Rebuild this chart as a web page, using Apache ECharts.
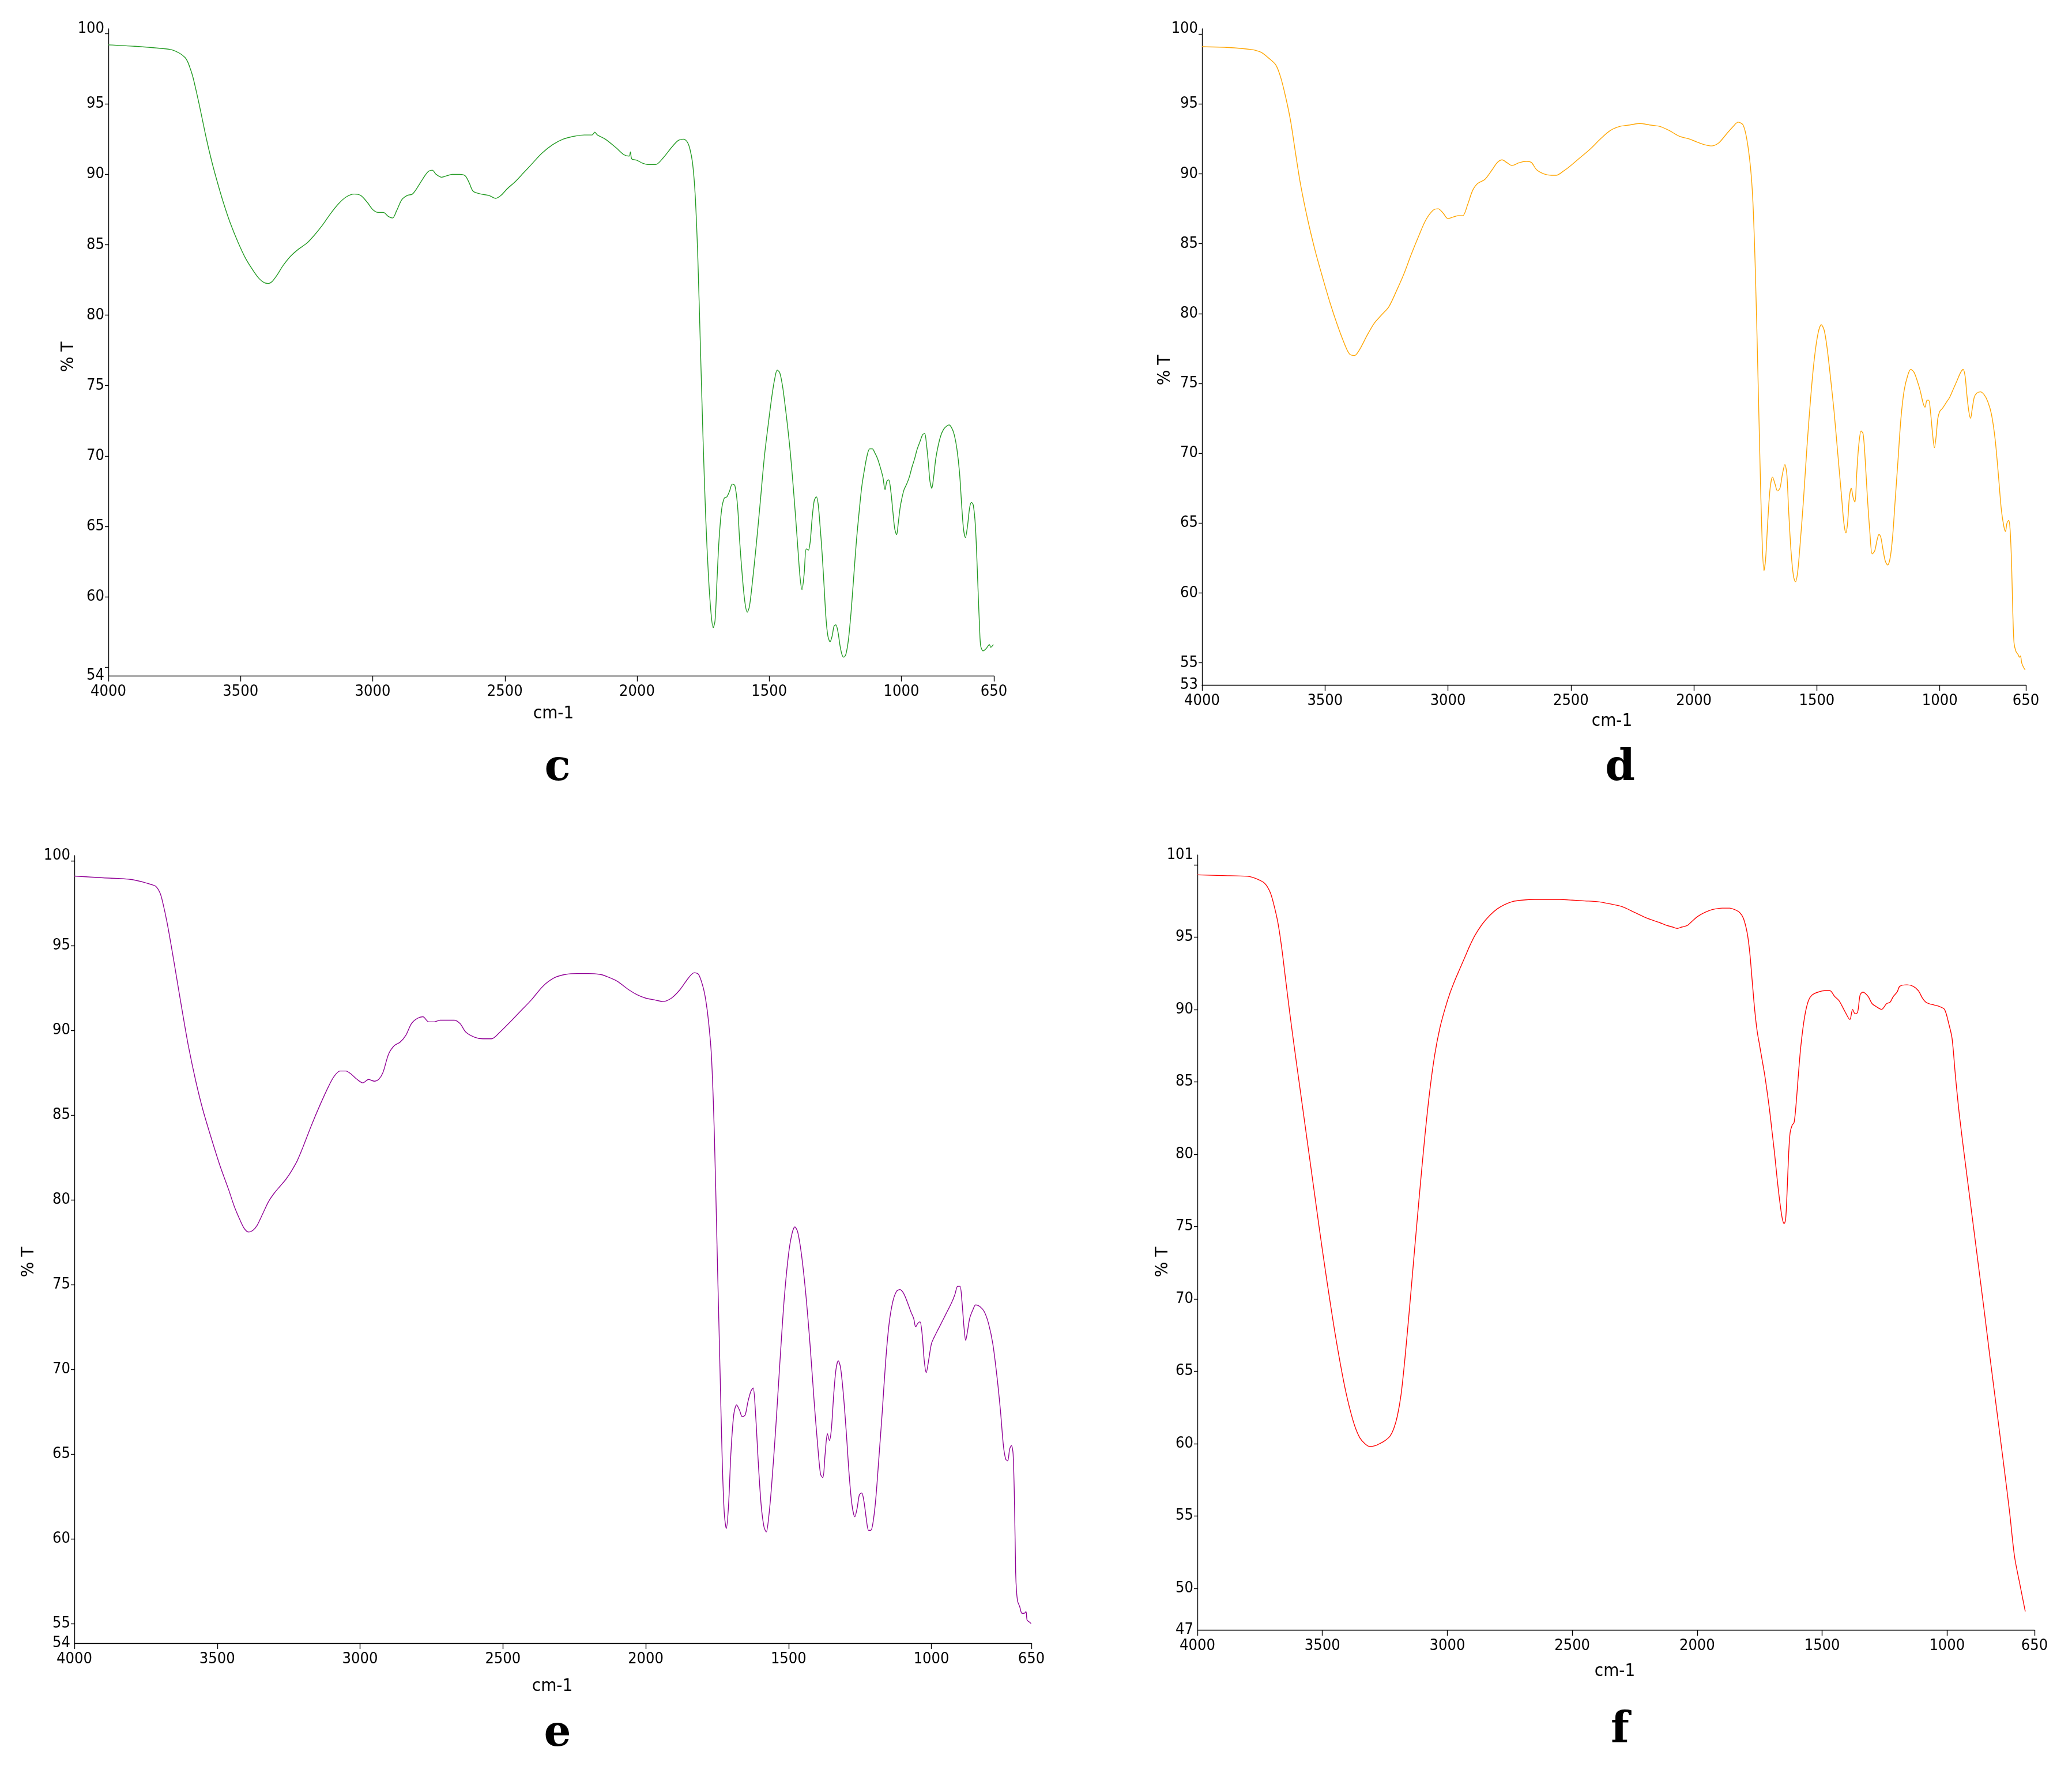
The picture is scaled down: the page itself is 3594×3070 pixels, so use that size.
<!DOCTYPE html>
<html><head><meta charset="utf-8">
<script src="https://cdn.jsdelivr.net/npm/echarts@6/dist/echarts.min.js"></script>
<style>html,body{margin:0;padding:0;background:#fff}#main{width:3594px;height:3070px}</style>
</head><body><div id="main"></div>
<script>
// ---------- DATA ----------
const xTickValues = [4000, 3500, 3000, 2500, 2000, 1500, 1000, 650];
const yTickValues = [55, 60, 65, 70, 75, 80, 85, 90, 95, 100];
const fTickValues = [50, 55, 60, 65, 70, 75, 80, 85, 90, 95, 100];

// panel c (green)
const cWn = [4000,3900,3800,3760,3730,3710,3700,3690,3680,3665,3650,3630,3610,3590,3565,3540,3510,3480,3450,3430,3410,3395,3380,3360,3340,3310,3280,3250,3220,3190,3160,3130,3100,3070,3045,3020,3000,2980,2960,2940,2925,2910,2890,2870,2850,2830,2810,2790,2775,2760,2740,2720,2700,2670,2650,2635,2620,2590,2560,2535,2515,2490,2460,2430,2400,2360,2320,2280,2240,2200,2170,2160,2150,2120,2080,2050,2030,2025,2020,2000,1980,1960,1930,1900,1870,1845,1825,1810,1800,1790,1780,1770,1760,1750,1740,1730,1720,1712,1705,1698,1690,1680,1670,1660,1650,1640,1630,1620,1612,1602,1592,1583,1575,1565,1550,1535,1518,1500,1488,1478,1470,1460,1450,1440,1430,1420,1410,1400,1390,1383,1376,1368,1360,1352,1345,1338,1330,1322,1315,1308,1300,1292,1285,1278,1270,1262,1255,1248,1240,1232,1225,1218,1210,1200,1190,1180,1170,1160,1150,1140,1130,1120,1110,1100,1090,1080,1070,1062,1055,1048,1040,1032,1025,1018,1012,1005,998,990,980,970,960,950,940,930,920,912,905,898,892,885,878,870,860,850,840,830,820,810,800,790,780,772,765,758,750,742,735,728,720,713,709,704,700,691,680,672,667,662,652];
const cT  = [99.2,99.1,98.95,98.85,98.6,98.3,98.0,97.5,96.9,95.7,94.4,92.6,91.0,89.6,88.0,86.6,85.2,84.0,83.1,82.6,82.3,82.25,82.4,82.9,83.5,84.2,84.7,85.1,85.7,86.4,87.2,87.9,88.4,88.6,88.5,88.0,87.5,87.3,87.3,87.0,86.9,87.4,88.2,88.5,88.6,89.1,89.7,90.2,90.3,90.0,89.8,89.9,90.0,90.0,89.9,89.4,88.8,88.6,88.5,88.3,88.5,89.0,89.5,90.1,90.7,91.5,92.1,92.5,92.7,92.8,92.8,93.0,92.8,92.5,91.9,91.4,91.3,91.6,91.1,91.0,90.8,90.7,90.7,91.2,91.9,92.4,92.5,92.3,91.8,90.8,88.5,84,77.5,71,65.5,61.5,58.8,57.8,58.3,61,64,66.2,67.0,67.1,67.5,68.0,67.9,66.5,64,61.5,59.6,58.9,59.3,60.8,63.5,66.5,70,72.8,74.5,75.6,76.1,75.9,75.0,73.6,72.0,70.2,68.0,65.6,63.0,61.3,60.5,61.6,63.4,63.3,63.9,65.5,66.8,67.1,66.6,65.1,63.1,60.6,58.4,57.2,56.8,57.2,57.9,58.0,57.5,56.5,55.9,55.7,55.9,57.0,59.0,61.5,64.0,66.0,67.8,69.0,70.0,70.5,70.5,70.2,69.8,69.2,68.5,67.6,68.2,68.3,67.5,66.0,64.8,64.4,65.2,66.3,67.0,67.6,68.0,68.5,69.2,69.8,70.5,71.0,71.5,71.6,70.8,69.5,68.2,67.7,68.5,69.8,70.8,71.5,71.9,72.1,72.2,72.0,71.5,70.5,68.8,66.5,64.8,64.2,65.0,66.3,66.7,66.5,65.0,62.0,60.0,57.7,56.5,56.15,56.3,56.5,56.6,56.4,56.6];

// panel d (orange)
const dWn = [4000,3900,3800,3760,3730,3700,3680,3660,3640,3620,3600,3570,3540,3510,3480,3450,3420,3400,3380,3360,3330,3300,3270,3240,3210,3180,3150,3120,3090,3060,3040,3020,3000,2980,2960,2940,2920,2900,2880,2850,2820,2800,2780,2760,2740,2710,2680,2660,2640,2610,2580,2560,2530,2500,2460,2420,2380,2340,2300,2260,2220,2180,2140,2100,2060,2020,1990,1960,1930,1900,1870,1840,1820,1800,1785,1770,1760,1750,1740,1730,1722,1715,1708,1700,1690,1680,1670,1660,1650,1640,1630,1622,1615,1605,1595,1587,1578,1568,1555,1540,1525,1510,1495,1482,1470,1458,1445,1430,1415,1400,1390,1382,1375,1368,1360,1352,1345,1338,1330,1320,1312,1305,1295,1285,1275,1265,1255,1247,1240,1232,1222,1212,1202,1192,1182,1170,1158,1145,1130,1118,1105,1092,1080,1068,1060,1052,1045,1038,1030,1022,1015,1008,1000,990,975,960,945,930,915,905,897,890,882,875,868,860,850,835,820,805,790,775,762,750,740,733,727,720,714,708,703,698,690,682,676,672,667,660,653];
const dT  = [99.1,99.05,98.9,98.7,98.3,97.8,96.9,95.5,93.8,91.5,89.3,86.7,84.5,82.6,80.8,79.2,77.8,77.1,77.0,77.4,78.4,79.3,79.9,80.5,81.6,82.8,84.2,85.5,86.7,87.4,87.5,87.2,86.8,86.9,87.0,87.0,87.8,88.8,89.3,89.6,90.3,90.8,91.0,90.8,90.6,90.8,90.9,90.8,90.3,90.0,89.9,89.9,90.2,90.6,91.2,91.8,92.5,93.1,93.4,93.5,93.6,93.5,93.4,93.1,92.7,92.5,92.3,92.1,92.0,92.2,92.8,93.4,93.7,93.5,92.5,90.5,88,83,76,68.5,63.5,61.6,62.5,65,67.5,68.3,67.8,67.3,67.5,68.5,69.2,68.5,66,63,61.2,60.8,61.5,63.5,66.5,70.5,74,76.8,78.6,79.2,78.8,77.5,75.5,73,70,67,65,64.3,65,66.8,67.5,66.8,66.5,68.5,70.5,71.6,71.4,70,67,64.5,62.8,63,63.8,64.2,64,63.2,62.3,62.0,62.5,64,66.5,69.5,72.5,74.5,75.6,76.0,75.8,75.2,74.5,73.6,73.3,73.8,73.8,73.0,71.5,70.4,71.2,72.5,73.0,73.2,73.6,74.0,74.6,75.2,75.8,76.0,75.5,74.2,73,72.5,73.2,74.0,74.3,74.4,74.2,73.7,72.8,71,68.5,66,64.8,64.4,65.0,65.2,64.5,62,58.5,56.4,55.8,55.6,55.4,55.5,55.0,54.7,54.5];

// panel e (purple)
const eWn = [4000,3900,3800,3760,3730,3715,3700,3690,3676,3660,3642,3620,3600,3575,3550,3520,3490,3460,3440,3420,3405,3390,3375,3360,3340,3320,3300,3280,3260,3240,3220,3200,3170,3140,3110,3090,3070,3050,3030,3010,2990,2970,2950,2935,2920,2900,2880,2860,2840,2820,2800,2780,2760,2740,2720,2700,2670,2650,2630,2600,2570,2540,2510,2480,2440,2400,2360,2320,2280,2240,2200,2160,2140,2100,2060,2030,2000,1970,1940,1910,1880,1850,1830,1815,1800,1790,1780,1770,1760,1750,1740,1732,1725,1718,1710,1702,1692,1682,1672,1662,1652,1642,1632,1624,1616,1606,1596,1586,1578,1570,1560,1545,1530,1515,1500,1488,1478,1468,1455,1440,1425,1410,1398,1388,1380,1372,1364,1357,1350,1342,1334,1326,1318,1308,1298,1288,1278,1268,1260,1252,1244,1236,1228,1220,1212,1204,1195,1185,1172,1160,1148,1135,1122,1110,1098,1085,1072,1062,1055,1048,1040,1032,1025,1018,1010,1000,990,975,960,945,930,918,908,900,893,886,880,874,866,855,845,830,815,800,785,770,758,748,740,733,726,720,714,709,705,702,698,691,683,675,669,665,658,651];
const eT  = [99.1,99.0,98.9,98.75,98.6,98.5,98.1,97.5,96.4,94.9,93.1,90.9,89.0,87.0,85.3,83.6,82.0,80.6,79.6,78.8,78.3,78.1,78.2,78.5,79.2,79.9,80.4,80.8,81.2,81.7,82.3,83.1,84.4,85.6,86.7,87.3,87.6,87.6,87.4,87.1,86.9,87.1,87.0,87.1,87.5,88.6,89.1,89.3,89.7,90.4,90.7,90.8,90.5,90.5,90.6,90.6,90.6,90.4,89.9,89.6,89.5,89.5,89.9,90.4,91.1,91.8,92.6,93.1,93.3,93.35,93.35,93.3,93.2,92.9,92.4,92.1,91.9,91.8,91.7,91.9,92.4,93.1,93.4,93.3,92.6,91.8,90.5,88.5,84,77,70,64.5,61.5,60.6,62,65,67.3,67.9,67.6,67.2,67.3,68.1,68.7,68.9,67.5,64.5,62,60.7,60.4,61.2,63,66.5,70.5,74.2,76.8,78.0,78.4,78.1,76.8,74.5,71.5,68,65.5,63.8,63.6,65.0,66.2,65.8,66.5,68.5,70.0,70.5,70.1,68.5,66.3,63.8,62,61.3,61.8,62.6,62.7,62.2,61.2,60.5,60.5,61,62.3,64.5,67.5,70.5,72.7,74.0,74.6,74.7,74.5,74.0,73.4,73.0,72.5,72.7,72.8,72.0,70.5,69.8,70.5,71.5,71.9,72.4,72.9,73.4,73.9,74.4,74.9,74.9,74.0,72.5,71.7,72.2,73.0,73.5,73.8,73.7,73.4,72.7,71.5,69.5,67.5,65.5,64.7,64.6,65.3,65.5,65.0,62,58,56.9,56.3,56.0,55.6,55.6,55.7,55.2,55.1,55.0];

// panel f (red)
const fWn = [4000,3900,3800,3760,3730,3709,3695,3678,3663,3648,3630,3610,3590,3570,3550,3530,3510,3490,3470,3450,3430,3410,3390,3370,3350,3330,3310,3290,3270,3250,3230,3215,3200,3185,3170,3150,3130,3110,3090,3070,3050,3030,3010,2990,2970,2950,2930,2910,2890,2860,2830,2800,2770,2740,2700,2650,2600,2550,2500,2450,2400,2350,2300,2250,2200,2150,2120,2100,2080,2060,2040,2020,2000,1970,1940,1900,1870,1850,1830,1815,1800,1790,1780,1770,1760,1750,1740,1730,1720,1710,1700,1690,1680,1670,1660,1652,1646,1640,1634,1628,1620,1612,1604,1595,1585,1570,1555,1540,1516,1490,1469,1450,1432,1410,1389,1378,1368,1358,1348,1337,1316,1300,1284,1262,1242,1228,1215,1200,1189,1160,1136,1115,1099,1085,1072,1050,1030,1010,993,980,966,950,930,910,890,870,850,830,810,790,770,750,730,710,687,670,650];
const fT  = [99.3,99.25,99.2,99.0,98.7,98.1,97.3,96.0,94.3,92.2,89.7,87.1,84.6,82.1,79.6,77.1,74.6,72.2,69.9,67.7,65.7,63.9,62.4,61.2,60.4,60.0,59.8,59.85,60.0,60.2,60.5,61.0,61.9,63.4,65.8,69.6,73.6,77.5,81.2,84.4,86.9,88.7,90.0,91.1,92.0,92.8,93.6,94.4,95.1,95.9,96.5,96.95,97.25,97.45,97.55,97.6,97.6,97.6,97.55,97.5,97.45,97.3,97.1,96.7,96.3,96.0,95.8,95.7,95.6,95.7,95.8,96.1,96.4,96.7,96.9,97.0,97.0,96.9,96.7,96.3,95.3,94,92,90,88.5,87.5,86.5,85.5,84.3,83,81.5,80,78.3,76.8,75.6,75.2,75.5,77.5,80.0,81.5,82.0,82.2,83.5,85.5,87.5,89.5,90.6,91.0,91.2,91.3,91.3,90.9,90.6,89.9,89.3,90.0,89.7,89.8,91.0,91.2,90.9,90.4,90.2,90.0,90.4,90.5,90.9,91.2,91.6,91.7,91.6,91.3,90.8,90.5,90.4,90.3,90.2,90.0,89.0,88.0,85.3,82.6,79.8,77.1,74.4,71.7,69.0,66.2,63.5,60.8,58.1,55.3,52.2,50.4,48.4];

// ---------- FONT PICK ----------
function hasFont(f) {
  const c = document.createElement('canvas').getContext('2d');
  const s = '0123456789 cm-1 % T abc';
  for (const fb of ['monospace', 'serif']) {
    c.font = '40px ' + fb; const w0 = c.measureText(s).width;
    c.font = "40px '" + f + "', " + fb; const w1 = c.measureText(s).width;
    if (Math.abs(w0 - w1) > 0.5) return true;
  }
  return false;
}
let FAM = null;
for (const f of ['Liberation Sans Narrow', 'Arial Narrow', 'DejaVu Sans Condensed']) { if (hasFont(f)) { FAM = f; break; } }
let FSTYLE = 'normal', FS = 27;
if (!FAM) {
  FAM = 'Liberation Sans';
  const c = document.createElement('canvas').getContext('2d');
  c.font = "40px 'DejaVu Sans'"; const w0 = c.measureText('0123456789').width;
  c.font = "condensed 40px 'DejaVu Sans'"; const w1 = c.measureText('0123456789').width;
  if (w1 < w0 - 2) { FAM = 'DejaVu Sans'; FSTYLE = 'condensed'; } else { FS = 25; }
}
const FONT = "'" + FAM + "',sans-serif";

// ---------- LAYOUT ----------
const panels = [
  {wn:cWn, t:cT, color:'#229a22', grid:{left:188, top:50, width:1536, height:1122}, yMin:54.386, yMax:100.34, ticks:yTickValues, yLab:[60,65,70,75,80,85,90,95]},
  {wn:dWn, t:dT, color:'#ffa500', grid:{left:2085, top:50, width:1429, height:1138}, yMin:53.42, yMax:100.38, ticks:yTickValues, yLab:[55,60,65,70,75,80,85,90,95]},
  {wn:eWn, t:eT, color:'#900096', grid:{left:129, top:1484, width:1660, height:1366}, yMin:53.84, yMax:100.31, ticks:yTickValues, yLab:[55,60,65,70,75,80,85,90,95]},
  {wn:fWn, t:fT, color:'#ff0000', grid:{left:2077, top:1483, width:1452, height:1344}, yMin:47.13, yMax:100.67, ticks:fTickValues, yLab:[50,55,60,65,70,75,80,85,90,95]}
];

const labelStyle = {color:'#000', fontFamily:FONT, fontSize:FS, fontStyle:FSTYLE};
const grids = [], xAxes = [], yAxes = [], series = [];
panels.forEach((p, i) => {
  grids.push(Object.assign({containLabel:false}, p.grid));
  xAxes.push({
    type:'value', gridIndex:i, inverse:true, min:650, max:4000,
    splitLine:{show:false},
    axisLine:{onZero:false, lineStyle:{color:'#000', width:1.4}},
    axisTick:{customValues:xTickValues, length:10, lineStyle:{color:'#000', width:1.4}},
    axisLabel:Object.assign({customValues:xTickValues, margin:14, formatter:v => String(v)}, labelStyle)
  });
  yAxes.push({
    type:'value', gridIndex:i, min:p.yMin, max:p.yMax,
    splitLine:{show:false},
    axisLine:{onZero:false, lineStyle:{color:'#000', width:1.4}},
    axisTick:{customValues:p.ticks, length:6, lineStyle:{color:'#000', width:1.4}},
    axisLabel:Object.assign({customValues:[p.yMin].concat(p.yLab, [p.yMax]), margin:7,
      formatter:v => String(Math.round(v))}, labelStyle)
  });
  series.push({
    type:'line', xAxisIndex:i, yAxisIndex:i, showSymbol:false, symbol:'none',
    smooth:0.3, animation:false,
    lineStyle:{color:p.color, width:1.4},
    data:p.wn.map((w, k) => [w, p.t[k]])
  });
});

const tfont = (FSTYLE === 'condensed' ? 'condensed ' : '') + (FS + 4) + 'px ' + FONT;
const txt = (x, y, s) => ({type:'text', x, y, style:{text:s, fill:'#000', font:tfont, textAlign:'center', textVerticalAlign:'middle'}});
const ylab = (x, y) => ({type:'text', x, y, rotation:Math.PI/2, style:{text:'% T', fill:'#000', font:tfont, textAlign:'center', textVerticalAlign:'middle'}});
const letter = (x, y, s) => ({type:'text', x, y, style:{text:s, fill:'#000', font:"bold 74px 'Palatino Linotype','Book Antiqua','DejaVu Serif','Liberation Serif',serif", textAlign:'center', textVerticalAlign:'middle'}});

const graphic = [
  ylab(119, 619), txt(960, 1238, 'cm-1'), letter(967, 1334, 'c'),
  ylab(2021, 642), txt(2796, 1251, 'cm-1'), letter(2810, 1334, 'd'),
  ylab(50, 2189), txt(958, 2925, 'cm-1'), letter(967, 3009, 'e'),
  ylab(2017, 2189), txt(2801, 2899, 'cm-1'), letter(2810, 3003, 'f')
];

const chart = echarts.init(document.getElementById('main'));
chart.setOption({animation:false, backgroundColor:'#fff', grid:grids, xAxis:xAxes, yAxis:yAxes, series, graphic});
</script></body></html>
